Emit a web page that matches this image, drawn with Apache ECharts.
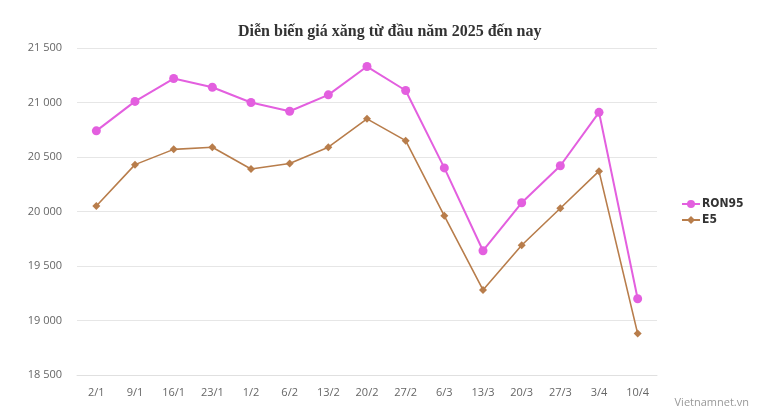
<!DOCTYPE html>
<html>
<head>
<meta charset="utf-8">
<script src="https://cdn.jsdelivr.net/npm/echarts@6/dist/echarts.min.js"></script>
<style>
html,body{margin:0;padding:0;background:#fff;}
#c{width:757px;height:418px;}
</style>
</head>
<body>
<div id="c"></div>
<script>
var categories = ['2/1','9/1','16/1','23/1','1/2','6/2','13/2','20/2','27/2','6/3','13/3','20/3','27/3','3/4','10/4'];
var ron95 = [20740,21010,21220,21140,21000,20920,21070,21330,21110,20400,19640,20080,20420,20910,19200];
var e5 = [20050,20430,20570,20590,20390,20440,20590,20850,20650,19960,19280,19690,20030,20370,18880];
var yTicks = [18500,19000,19500,20000,20500,21000,21500];

var chart = echarts.init(document.getElementById('c'), null, {renderer:'canvas'});
function fmt(v){ return String(v).replace(/\B(?=(\d{3})+(?!\d))/g,' '); }
chart.setOption({
  animation:false,
  backgroundColor:'#fff',
  title:{
    text:'Diễn biến giá xăng từ đầu năm 2025 đến nay',
    left:233, top:19,
    textStyle:{fontFamily:'Liberation Serif', fontWeight:'bold', fontSize:16, color:'#333'}
  },
  graphic:[{type:'text', right:8, top:397, style:{text:'Vietnamnet.vn', fill:'#999', font:'11px "Open Sans"'}}],
  legend:{
    orient:'vertical', left:676, top:193, itemGap:4, itemWidth:18, itemHeight:10,
    textStyle:{fontFamily:'"DejaVu Sans Condensed"', fontWeight:'bold', fontSize:12, color:'#333', padding:[0,0,0,-3]},
    data:['RON95','E5']
  },
  grid:{left:77, right:100, top:48, bottom:43},
  xAxis:{
    type:'category', data:categories, boundaryGap:true,
    axisLine:{lineStyle:{color:'#e0e0e0'}}, axisTick:{show:false},
    axisLabel:{color:'#666', fontFamily:'"Open Sans"', fontSize:11, margin:12}
  },
  yAxis:{
    type:'value', min:yTicks[0], max:yTicks[yTicks.length-1], interval:500,
    axisLine:{show:false}, axisTick:{show:false},
    splitLine:{lineStyle:{color:'#e6e6e6'}},
    axisLabel:{color:'#666', fontFamily:'"Open Sans"', fontSize:11, margin:15, formatter:fmt}
  },
  series:[
    {name:'RON95', type:'line', data:ron95, symbol:'circle', symbolSize:9,
     itemStyle:{color:'#e35fdf'}, lineStyle:{width:2, color:'#e35fdf'}},
    {name:'E5', type:'line', data:e5, symbol:'diamond', symbolSize:8,
     itemStyle:{color:'#b87d4b'}, lineStyle:{width:1.6, color:'#b87d4b'}}
  ]
});
</script>
</body>
</html>
